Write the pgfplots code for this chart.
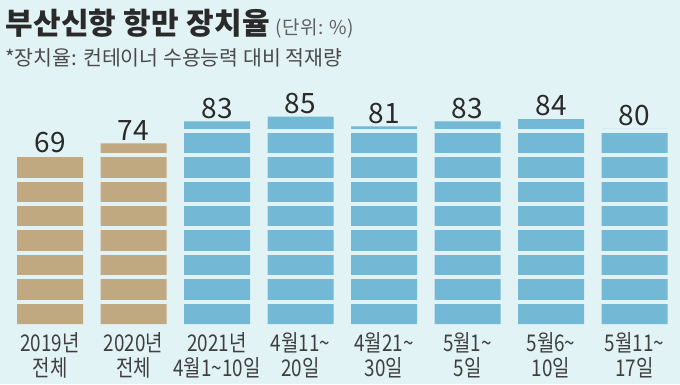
\documentclass[border=0pt]{standalone}
\usepackage{fontspec}
\setmainfont{Noto Sans CJK KR}
\newfontfamily\cond[FakeStretch=0.82]{Noto Sans CJK KR}
\usepackage{pgfplots}
\pgfplotsset{compat=1.18}
\definecolor{bgc}{HTML}{E2F3F6}
\definecolor{tanc}{HTML}{C0A880}
\definecolor{bluec}{HTML}{73B8D4}
\definecolor{txt}{HTML}{2A2A2A}
\begin{document}
\begin{tikzpicture}
\fill[bgc] (0,0) rectangle (680pt,384pt);
\useasboundingbox (0,0) rectangle (680pt,384pt);
\node[anchor=base west, inner sep=0pt, text=txt] at (5pt,350pt)
  {{\fontsize{30}{32}\selectfont\bfseries\addfontfeatures{LetterSpace=1}부산신항 항만 장치율}\hspace{6pt}{\fontsize{19}{20}\selectfont\addfontfeatures{LetterSpace=2}\color{txt!75}(단위: \%)}};
\node[anchor=base west, inner sep=0pt, text=txt!85] at (5pt,319pt)
  {\fontsize{20.5}{22}\selectfont *장치율: 컨테이너 수용능력 대비 적재량};
\begin{axis}[
  at={(8.25pt,60pt)}, anchor=south west,
  x=83.5pt, y=2.44pt,
  xmin=-0.5, xmax=7.5, ymin=0, ymax=90,
  axis line style={draw=none},
  ytick=\empty,
  xtick={0,...,7},
  major tick length=0pt,
  xticklabels={2019년\\전체, 2020년\\전체, 2021년\\4월1\textasciitilde10일, 4월11\textasciitilde\\20일, 4월21\textasciitilde\\30일, 5월1\textasciitilde\\5일, 5월6\textasciitilde\\10일, 5월11\textasciitilde\\17일},
  xticklabel style={align=center, font=\cond\fontsize{23}{25}\selectfont, text=txt!90, yshift=-5pt},
  ybar, bar width=66pt, bar shift=0pt,
  clip=false,
  /pgf/number format/assume math mode=true,
  nodes near coords,
  nodes near coords style={font=\fontsize{28}{28}\selectfont, text=txt, inner sep=2.5pt},
]
\addplot[fill=tanc, draw=none] coordinates {(0,69) (1,74)};
\addplot[fill=bluec, draw=none] coordinates {(2,83) (3,85) (4,81) (5,83) (6,84) (7,80)};
\fill[bgc] (axis cs:-0.5,8.36) rectangle (axis cs:7.5,10);
\fill[bgc] (axis cs:-0.5,18.36) rectangle (axis cs:7.5,20);
\fill[bgc] (axis cs:-0.5,28.36) rectangle (axis cs:7.5,30);
\fill[bgc] (axis cs:-0.5,38.36) rectangle (axis cs:7.5,40);
\fill[bgc] (axis cs:-0.5,48.36) rectangle (axis cs:7.5,50);
\fill[bgc] (axis cs:-0.5,58.36) rectangle (axis cs:7.5,60);
\fill[bgc] (axis cs:-0.5,68.36) rectangle (axis cs:7.5,70);
\fill[bgc] (axis cs:-0.5,78.36) rectangle (axis cs:7.5,80);
\end{axis}
\end{tikzpicture}
\end{document}
